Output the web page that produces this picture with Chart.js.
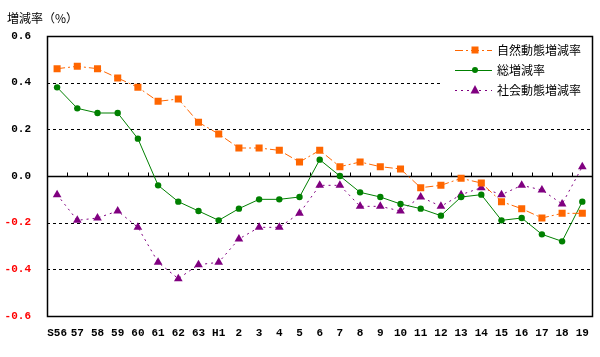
<!DOCTYPE html>
<html><head><meta charset="utf-8">
<script src="https://cdn.jsdelivr.net/npm/chart.js@4/dist/chart.umd.min.js"></script>
<style>html,body{margin:0;padding:0;background:#fff;}canvas{display:block;}</style>
</head><body>
<canvas id="c" width="600" height="357"></canvas>
<script>
const categories = ['S56','57','58','59','60','61','62','63','H1','2','3','4','5','6','7','8','9','10','11','12','13','14','15','16','17','18','19'];
const naturalRate = [0.46,0.47,0.46,0.42,0.38,0.32,0.33,0.23,0.18,0.12,0.12,0.11,0.06,0.11,0.04,0.06,0.04,0.03,-0.05,-0.04,-0.01,-0.03,-0.11,-0.14,-0.18,-0.16,-0.16];
const totalRate = [0.38,0.29,0.27,0.27,0.16,-0.04,-0.11,-0.15,-0.19,-0.14,-0.10,-0.10,-0.09,0.07,0.00,-0.07,-0.09,-0.12,-0.14,-0.17,-0.09,-0.08,-0.19,-0.18,-0.25,-0.28,-0.11];
const socialRate = [-0.08,-0.19,-0.18,-0.15,-0.22,-0.37,-0.44,-0.38,-0.37,-0.27,-0.22,-0.22,-0.16,-0.04,-0.04,-0.13,-0.13,-0.15,-0.09,-0.13,-0.08,-0.05,-0.08,-0.04,-0.06,-0.12,0.04];
const seriesNames = ['自然動態増減率','総増減率','社会動態増減率'];
const yTickValues = [-0.6,-0.4,-0.2,0.0,0.2,0.4,0.6];
const axisTitle = '増減率（%）';

const MONO = '"Liberation Mono", "DejaVu Sans Mono", monospace';
const CJK = '"Noto Sans CJK JP", sans-serif';
const NEG_COLOR = '#FF0000';

function drawMarker(ctx, style, x, y, color) {
  ctx.save();
  ctx.fillStyle = color;
  ctx.beginPath();
  if (style === 'rect') {
    ctx.rect(x - 3.5, y - 3.5, 7, 7);
  } else if (style === 'triangle') {
    ctx.moveTo(x, y - 5); ctx.lineTo(x + 4.5, y + 3.5); ctx.lineTo(x - 4.5, y + 3.5); ctx.closePath();
  } else {
    ctx.arc(x, y, 3, 0, Math.PI * 2);
  }
  ctx.fill();
  ctx.restore();
}

const framePlugin = {
  id: 'frame',
  beforeDatasetsDraw(chart) {
    const ctx = chart.ctx, a = chart.chartArea, y = chart.scales.y;
    ctx.save();
    ctx.strokeStyle = '#000';
    ctx.lineWidth = 1;
    ctx.setLineDash([3, 3]);
    [0.4, 0.2, -0.2, -0.4].forEach(v => {
      const py = Math.round(y.getPixelForValue(v)) + 0.5;
      ctx.beginPath(); ctx.moveTo(a.left, py); ctx.lineTo(a.right, py); ctx.stroke();
    });
    ctx.setLineDash([]);
    ctx.fillStyle = '#fff';
    ctx.fillRect(440, 40, 153, 62);
    const zy = Math.round(y.getPixelForValue(0)) + 0.5;
    ctx.lineWidth = 1.3;
    ctx.beginPath(); ctx.moveTo(a.left, zy); ctx.lineTo(a.right, zy); ctx.stroke();
    const n = categories.length;
    ctx.lineWidth = 1;
    for (let i = 1; i < n; i++) {
      const px = Math.round(a.left + (a.right - a.left) * i / n) + 0.5;
      ctx.beginPath(); ctx.moveTo(px, zy); ctx.lineTo(px, zy - 4); ctx.stroke();
    }
    ctx.lineWidth = 1.5;
    ctx.strokeRect(Math.round(a.left) + 0.5, Math.round(a.top) + 0.5, Math.round(a.right - a.left), Math.round(a.bottom - a.top));
    ctx.restore();
  },
  afterDraw(chart) {
    const ctx = chart.ctx;
    ctx.save();
    // ensure negative y tick labels are red, at the scale's own label positions
    const ys = chart.scales.y;
    const items = ys.getLabelItems ? ys.getLabelItems() : (ys._labelItems || []);
    items.forEach((it, i) => {
      const tick = ys.ticks[i];
      if (!tick || tick.value >= -1e-9) return;
      const o = it.options || {};
      const tx = o.translation ? o.translation[0] : 31;
      const ty = o.translation ? o.translation[1] : ys.getPixelForValue(tick.value);
      ctx.fillStyle = '#fff';
      ctx.fillRect(tx - 30, ty - 7, 31, 14);
      ctx.font = 'bold 11px ' + MONO;
      ctx.textAlign = 'right';
      ctx.textBaseline = 'middle';
      ctx.fillStyle = NEG_COLOR;
      ctx.fillText(Array.isArray(it.label) ? it.label[0] : it.label, tx, ty);
    });
    ctx.fillStyle = '#000';
    ctx.font = '12px ' + CJK;
    ctx.textBaseline = 'middle';
    ctx.textAlign = 'left';
    ctx.fillText(axisTitle, 7, 18);
    chart.data.datasets.forEach((ds, i) => {
      const ly = 50 + i * 20;
      ctx.strokeStyle = ds.borderColor;
      ctx.lineWidth = 1;
      ctx.setLineDash(ds.borderDash || []);
      ctx.beginPath(); ctx.moveTo(455, ly + 0.5); ctx.lineTo(492, ly + 0.5); ctx.stroke();
      ctx.setLineDash([]);
      drawMarker(ctx, ds.pointStyle, 475, ly, ds.pointBackgroundColor);
      ctx.fillStyle = '#000';
      ctx.fillText(ds.label, 497, ly);
    });
    ctx.restore();
  }
};

new Chart(document.getElementById('c'), {
  type: 'line',
  data: {
    labels: categories,
    datasets: [
      { label: seriesNames[0], data: naturalRate, borderColor: '#FF6600', backgroundColor: '#FF6600', pointBackgroundColor: '#FF6600', pointBorderColor: '#FF6600', borderWidth: 1, borderDash: [8, 3, 2, 3], pointStyle: 'rect', pointRadius: 5, pointBorderWidth: 0, tension: 0 },
      { label: seriesNames[1], data: totalRate, borderColor: '#008000', backgroundColor: '#008000', pointBackgroundColor: '#008000', pointBorderColor: '#008000', borderWidth: 1, pointStyle: 'circle', pointRadius: 3.2, pointBorderWidth: 0, tension: 0 },
      { label: seriesNames[2], data: socialRate, borderColor: '#800080', backgroundColor: '#800080', pointBackgroundColor: '#800080', pointBorderColor: '#800080', borderWidth: 1, borderDash: [2, 4], pointStyle: 'triangle', pointRadius: 5, pointBorderWidth: 0, tension: 0 }
    ]
  },
  options: {
    responsive: false,
    animation: false,
    devicePixelRatio: 1,
    layout: { padding: { top: 36, right: 5, left: 0, bottom: 0 } },
    plugins: { legend: { display: false }, tooltip: { enabled: false }, title: { display: false } },
    scales: {
      x: {
        offset: true,
        grid: { display: false, drawTicks: false },
        border: { display: false },
        ticks: { color: '#000', font: { family: MONO, size: 11, weight: 'bold' }, padding: 11, maxRotation: 0, autoSkip: false },
        afterFit(s) { s.height = 41; }
      },
      y: {
        min: -0.6, max: 0.6,
        grid: { display: false, drawTicks: false },
        border: { display: false },
        afterBuildTicks(s) { s.ticks = yTickValues.map(v => ({ value: v })); },
        ticks: {
          color: (c) => (c.tick && c.tick.value < -1e-9) ? NEG_COLOR : '#000000',
          font: { family: MONO, size: 11, weight: 'bold' },
          padding: 16,
          callback: v => Number(v).toFixed(1)
        },
        afterFit(s) { s.width = 47; }
      }
    }
  },
  plugins: [framePlugin]
});
</script>
</body></html>
